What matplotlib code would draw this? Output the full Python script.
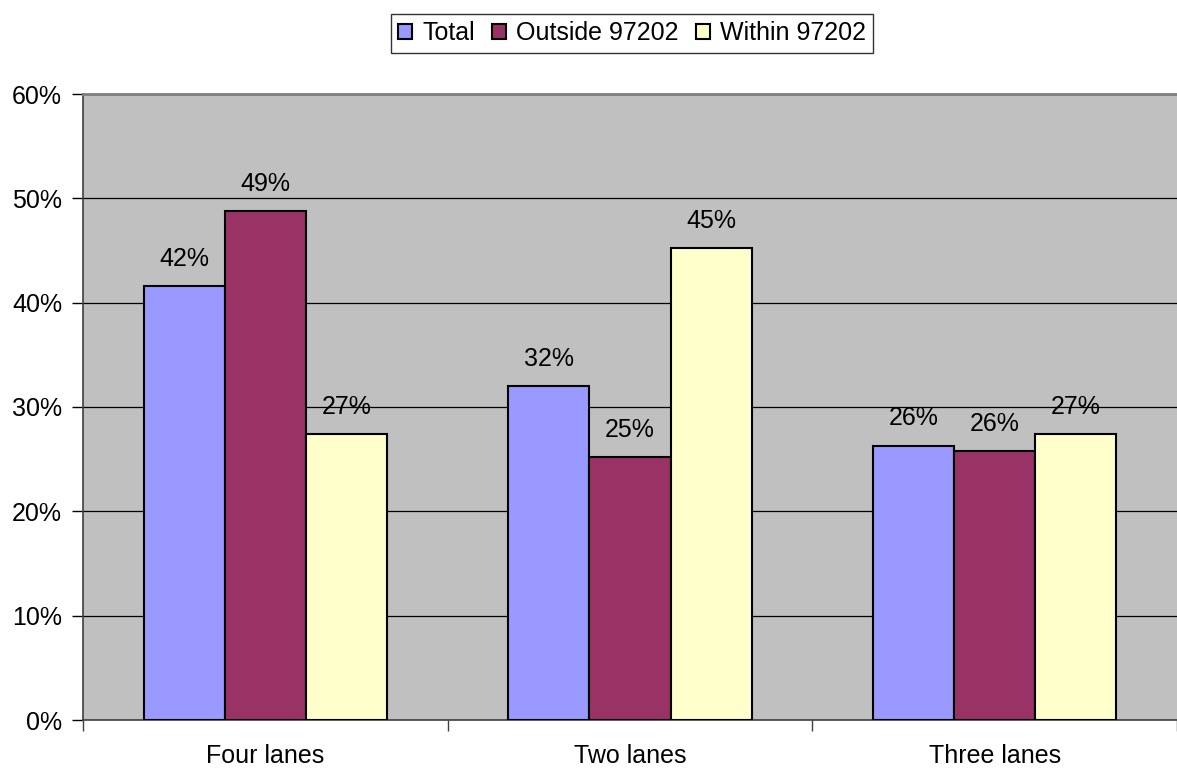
import numpy as np
import matplotlib.pyplot as plt

plt.rcParams['font.family'] = ['Liberation Sans', 'DejaVu Sans']

# Lane preference shares by respondent location
categories = ["Four lanes", "Two lanes", "Three lanes"]
series_names = ["Total", "Outside 97202", "Within 97202"]
total = [0.416, 0.320, 0.263]
outside = [0.488, 0.252, 0.258]
within = [0.274, 0.452, 0.274]
colors = ["#9999FF", "#993366", "#FFFFCC"]

W, H = 1177, 772
fig = plt.figure(figsize=(W / 100, H / 100), dpi=100)

# plot area runs off the right edge of the figure
left, bottom, top = 83, 720, 94
ax = fig.add_axes([left / W, (H - bottom) / H, (W - left) / W, (bottom - top) / H])
ax.set_facecolor("#C0C0C0")

group_px = 366
ax.set_xlim(-0.5, -0.5 + (W - left) / group_px)
ax.set_ylim(0, 0.6)

bar_w = 1 / 4.5
x = np.arange(len(categories))
for i, (vals, name, c) in enumerate(zip([total, outside, within], series_names, colors)):
    pos = x + (i - 1) * bar_w
    bars = ax.bar(pos, vals, width=bar_w, color=c, edgecolor="black",
                  linewidth=1.5, label=name, zorder=3)
    for b, v in zip(bars, vals):
        ax.annotate(f"{round(v * 100):.0f}%", (b.get_x() + b.get_width() / 2, v),
                    xytext=(0, 14.5), textcoords="offset points",
                    ha="center", va="baseline", fontsize=18)

# gridlines
ax.set_yticks(np.arange(0, 0.61, 0.1))
ax.set_yticklabels([f"{int(round(t * 100))}%" for t in np.arange(0, 0.61, 0.1)], fontsize=18)
ax.yaxis.grid(True, color="black", linewidth=0.9, zorder=0)
ax.set_axisbelow(True)

ax.set_xticks(x)
ax.set_xticklabels(categories, fontsize=18)
ax.tick_params(axis="x", length=0, pad=17)
ax.set_xticks([-0.5, 0.5, 1.5, 2.5], minor=True)
ax.tick_params(axis="x", which="minor", length=8, width=1, color="#404040")
ax.tick_params(axis="y", length=8, width=1, color="black", pad=7)

ax.spines["right"].set_visible(False)
ax.spines["top"].set_color("#808080")
ax.spines["top"].set_linewidth(2)
ax.spines["left"].set_color("#404040")
ax.spines["bottom"].set_color("#404040")
for s in ("left", "bottom"):
    ax.spines[s].set_linewidth(1.2)

leg = fig.legend(loc="center", bbox_to_anchor=(632 / W, 1 - 33 / H), ncol=3,
                 fontsize=18, frameon=True, fancybox=False, handlelength=0.55,
                 handleheight=0.55, handletextpad=0.4, columnspacing=0.7,
                 borderpad=0.3, borderaxespad=0)
leg.get_frame().set_edgecolor("black")
leg.get_frame().set_linewidth(1)

fig.savefig("out.png", dpi=100)
